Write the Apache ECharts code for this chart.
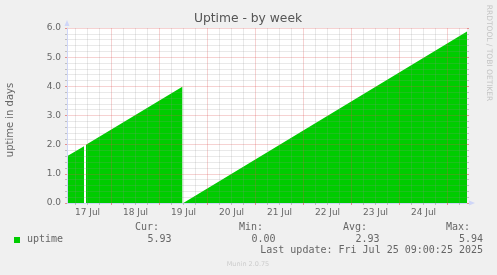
<!DOCTYPE html>
<html>
<head>
<meta charset="utf-8">
<script src="https://cdn.jsdelivr.net/npm/echarts@6/dist/echarts.min.js"></script>
<style>
html,body{margin:0;padding:0;background:#F0F0F0;}
#c{width:497px;height:275px;}
</style>
</head>
<body>
<div id="c"></div>
<script>
// ---- data (hours since 17 Jul 00:00, uptime in days) ----
const UPTIME_HOURS = [1.75, 10.25, 10.75, 11.25, 59.4, 59.65, 59.9, 201.75];
const UPTIME_DAYS  = [1.60, 1.95, null, 2.00, 3.99, null, 0.00, 5.88];
const DAY_LABELS = ['17 Jul','18 Jul','19 Jul','20 Jul','21 Jul','22 Jul','23 Jul','24 Jul'];
const Y_TICKS = ['0.0','1.0','2.0','3.0','4.0','5.0','6.0'];
const SERIES_NAME = 'uptime';
const STAT_LABELS = ['Cur:','Min:','Avg:','Max:'];
const STAT_VALUES = ['5.93','0.00','2.93','5.94'];
const LAST_UPDATE = 'Last update: Fri Jul 25 09:00:25 2025';
const TITLE = 'Uptime - by week';
const Y_NAME = 'uptime in days';
const WATERMARK = 'RRDTOOL / TOBI OETIKER';
const VERSION = 'Munin 2.0.75';

// ---- layout ----
const XMIN = 1.75, XMAX = 201.75;
const FONT = 'DejaVu Sans';
const MONO = 'DejaVu Sans Mono';
const TXT = '#666666';
const AXISC = '#CFD6F8';
const MGRID = 'rgba(222,80,80,0.26)';
const GRID = 'rgba(143,143,143,0.2)';

const seriesData = UPTIME_HOURS.map((h, i) => [h, UPTIME_DAYS[i] === null ? '-' : UPTIME_DAYS[i]]);
const noonVals = DAY_LABELS.map((d, i) => 12 + 24 * i);
const midnightVals = [];
const sixHourVals = [];
for (let h = 6; h < XMAX; h += 6) {
  if (h < XMIN) continue;
  if (h % 24 === 0) midnightVals.push(h); else sixHourVals.push(h);
}
const vGrid = sixHourVals.map(v => ({ xAxis: v, lineStyle: { color: GRID, type: 'solid', width: 1 } }))
  .concat(midnightVals.map(v => ({ xAxis: v, lineStyle: { color: MGRID, type: 'solid', width: 1 } })));

const graphics = [];
function txt(x, y, s, font, color, align, rot) {
  graphics.push({
    type: 'text', x: x, y: y, rotation: rot || 0, silent: true,
    style: { text: s, font: font, fill: color, textAlign: align || 'left', textVerticalAlign: 'middle' }
  });
}
txt(248, 19.3, TITLE, '12.3px ' + FONT, '#555555', 'center');
txt(10.5, 120, Y_NAME, '10px ' + FONT, TXT, 'center', Math.PI / 2);
txt(488.5, 53, WATERMARK, '7.5px ' + FONT, '#C4C4C4', 'center', -Math.PI / 2);
graphics.push({ type: 'rect', shape: { x: 14, y: 237, width: 6, height: 6 }, style: { fill: '#00CC00' }, silent: true });
txt(27, 239.5, SERIES_NAME, '10px ' + MONO, TXT, 'left');
const labelRight = [159, 263, 367, 470];
const valueRight = [171.5, 275.5, 379.5, 483];
STAT_LABELS.forEach((s, i) => txt(labelRight[i], 227.5, s, '10px ' + MONO, TXT, 'right'));
STAT_VALUES.forEach((s, i) => txt(valueRight[i], 239.5, s, '10px ' + MONO, TXT, 'right'));
txt(483, 250.5, LAST_UPDATE, '10px ' + MONO, TXT, 'right');
txt(248, 264, VERSION, '6.5px ' + FONT, '#CCCCCC', 'center');

const chart = echarts.init(document.getElementById('c'), null, { renderer: 'canvas' });
chart.setOption({
  animation: false,
  backgroundColor: '#F0F0F0',
  grid: { left: 67, right: 30, top: 28, bottom: 72, show: true, backgroundColor: '#FFFFFF', borderWidth: 0 },
  xAxis: [
    {
      type: 'value', min: XMIN, max: XMAX, z: 5,
      axisLine: { show: true, lineStyle: { color: AXISC, width: 1 }, symbol: ['none', 'triangle'], symbolSize: [5, 6], symbolOffset: [0, 5] },
      axisTick: { show: true, length: 2, customValues: sixHourVals, lineStyle: { color: 'rgba(143,143,143,0.5)' } },
      axisLabel: {
        show: true, customValues: noonVals, margin: 5, color: TXT, fontFamily: FONT, fontSize: 9,
        formatter: v => DAY_LABELS[Math.round((v - 12) / 24)]
      },
      splitLine: { show: false }
    },
    {
      type: 'value', min: XMIN, max: XMAX, z: 6, position: 'bottom',
      axisLine: { show: false },
      axisTick: { show: true, length: 2, customValues: midnightVals, lineStyle: { color: 'rgba(222,80,80,0.6)' } },
      axisLabel: { show: false },
      splitLine: { show: false }
    }
  ],
  yAxis: [
    {
      type: 'value', min: 0, max: 6, interval: 1, z: 5,
      axisLine: { show: true, lineStyle: { color: AXISC, width: 1 }, symbol: ['none', 'triangle'], symbolSize: [5, 6], symbolOffset: [0, 5] },
      axisTick: { show: true, length: 2, lineStyle: { color: 'rgba(222,80,80,0.6)' } },
      minorTick: { show: true, splitNumber: 5, length: 2, lineStyle: { color: 'rgba(143,143,143,0.5)' } },
      axisLabel: { color: TXT, fontFamily: FONT, fontSize: 9, margin: 6, formatter: v => Y_TICKS[Math.round(v)] },
      splitLine: { show: true, lineStyle: { color: MGRID, type: 'solid', width: 1 } },
      minorSplitLine: { show: true, lineStyle: { color: GRID, type: 'solid', width: 1 } }
    },
    {
      type: 'value', min: 0, max: 6, interval: 1, z: 5, position: 'right',
      axisLine: { show: false },
      axisTick: { show: true, length: 2, lineStyle: { color: 'rgba(222,80,80,0.6)' } },
      minorTick: { show: true, splitNumber: 5, length: 2, lineStyle: { color: 'rgba(143,143,143,0.5)' } },
      axisLabel: { show: false },
      splitLine: { show: false }
    }
  ],
  series: [{
    name: SERIES_NAME, type: 'line', xAxisIndex: 0, yAxisIndex: 0, z: 2,
    data: seriesData, showSymbol: false, connectNulls: false,
    lineStyle: { width: 0, color: '#00CC00' },
    areaStyle: { color: '#00CC00', opacity: 1 },
    markLine: {
      silent: true, animation: false, z: 4, symbol: ['none', 'none'],
      label: { show: false }, emphasis: { disabled: true },
      data: vGrid
    }
  }],
  graphic: graphics
});
</script>
</body>
</html>
